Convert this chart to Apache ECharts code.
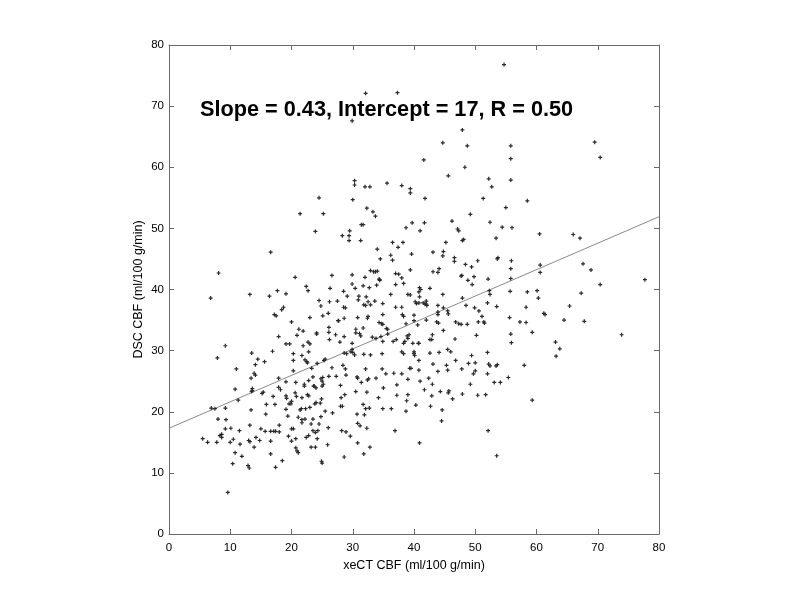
<!DOCTYPE html>
<html><head><meta charset="utf-8">
<script src="https://cdn.jsdelivr.net/npm/echarts@6/dist/echarts.min.js"></script>
<style>html,body{margin:0;padding:0;background:#fff}#c{width:800px;height:600px}</style>
</head><body><div id="c"></div>
<script>
// ---- data ----
const xValues = [
54.7,32.1,37.3,29.9,47.9,44.7,48.7,55.8,69.5,70.4,55.8,41.6,48.3,45.6,52.2,55.8,30.3,30.3,35.6,38.0,
39.4,39.4,32.0,32.8,52.7,24.5,41.8,51.3,30.0,58.5,21.4,25.2,49.2,32.3,33.3,33.7,55.0,46.2,52.4,39.7,
41.7,31.4,31.7,54.4,56.0,38.7,29.5,23.9,41.0,47.1,47.3,60.5,66.0,67.1,28.3,29.4,31.3,29.4,47.9,48.1,
53.4,36.5,38.2,45.2,37.4,34.0,16.6,43.1,44.8,44.7,39.6,36.2,36.5,34.5,46.6,46.6,53.7,53.6,55.9,50.4,
60.6,67.6,55.8,60.6,48.4,44.1,43.9,32.9,33.4,33.7,34.0,37.5,43.1,47.8,49.4,52.1,55.8,68.9,8.1,20.6,
26.6,29.9,32.0,38.0,47.7,48.8,49.8,77.7,70.4,60.1,60.3,52.3,52.4,55.7,58.5,67.3,49.5,47.9,39.4,22.4,
22.7,26.3,17.7,19.1,13.2,16.4,6.8,29.9,30.4,31.7,32.7,34.3,34.4,37.0,38.3,40.9,41.1,42.6,44.7,36.2,
39.0,39.4,28.5,27.5,26.2,24.5,28.5,28.8,29.1,31.0,30.9,32.2,32.5,32.9,31.8,32.1,33.6,34.9,37.0,38.0,
40.2,40.4,40.8,41.5,42.0,42.1,43.9,44.8,43.9,43.9,45.5,48.5,49.9,50.6,52.0,53.5,58.3,65.4,61.2,61.4,
55.6,67.8,73.9,64.5,57.3,58.3,51.1,51.4,51.5,50.5,48.7,46.8,47.3,47.7,45.6,43.7,44.0,42.0,40.0,40.0,
40.6,38.1,38.3,34.9,34.3,34.7,34.9,35.5,35.7,32.4,32.5,30.8,28.6,27.6,27.7,26.0,25.1,24.8,23.0,17.2,
17.5,18.4,18.7,20.0,21.2,21.9,17.9,20.9,24.1,24.1,26.1,26.1,27.2,28.6,30.5,31.1,31.3,30.5,31.7,33.2,
33.8,34.6,35.7,39.2,38.9,39.0,43.0,42.6,42.9,44.8,46.7,50.2,59.3,63.1,63.8,63.2,55.8,55.9,40.7,40.8,
39.8,38.3,38.5,34.9,37.1,36.6,29.9,27.9,26.2,22.7,23.0,21.9,19.1,19.7,9.2,13.5,16.9,20.3,21.7,22.8,
28.6,29.0,29.7,29.9,30.0,30.3,31.8,32.9,34.8,38.0,38.3,40.0,40.0,40.1,42.6,44.1,45.5,46.0,49.4,52.0,
52.2,52.4,58.0,55.4,53.1,51.7,50.4,59.3,52.1,53.5,50.0,50.0,49.7,48.9,47.8,49.2,46.8,45.3,45.5,43.9,
43.1,43.0,42.9,45.7,45.6,44.3,44.6,44.5,46.3,42.7,41.0,40.8,41.7,40.3,40.9,39.0,39.0,38.8,38.7,37.2,
37.2,38.0,36.7,36.3,36.9,35.4,34.8,35.0,34.2,34.9,33.8,32.6,32.4,32.1,32.3,31.4,30.7,30.8,30.5,31.7,
30.7,31.9,32.1,32.7,30.8,31.2,29.6,30.8,31.8,32.8,32.3,28.4,28.8,28.9,28.0,28.7,28.1,28.0,28.3,28.2,
28.9,28.6,27.3,26.1,26.6,26.7,26.0,25.9,25.3,25.5,25.1,24.8,25.0,25.0,25.2,24.9,24.7,25.5,24.8,24.5,
24.3,24.9,25.0,24.2,23.9,23.9,23.5,23.2,23.5,23.8,24.0,24.0,23.7,23.6,23.5,23.3,24.2,22.6,22.2,22.5,
22.8,22.8,22.6,22.3,23.0,22.2,21.7,21.7,22.4,22.8,23.2,21.6,21.4,21.7,22.1,22.1,20.7,20.3,20.3,20.6,
20.8,21.1,20.0,20.3,19.5,20.0,20.7,20.7,20.9,21.1,18.0,18.5,17.4,18.0,19.1,19.2,19.1,19.6,19.9,20.0,
19.4,19.1,17.9,18.2,17.9,17.0,17.3,16.6,16.6,16.6,17.4,17.1,15.7,15.0,14.2,14.8,15.8,15.9,15.4,15.2,
15.6,14.5,14.1,13.9,14.1,13.4,13.6,13.6,13.5,13.4,13.2,13.0,13.2,13.9,12.9,13.1,11.9,11.6,11.5,11.3,
10.8,11.0,10.4,10.8,10.5,10.1,10.0,9.6,9.2,9.3,9.2,8.6,8.3,8.6,8.0,7.9,7.8,7.5,6.9,6.3,
5.5,53.4,53.6,54.1,52.0,42.4,39.3,39.5,40.8,47.9,34.4,33.9,37.0,40.8,40.9,42.0,41.8,38.7
];
const yValues = [
76.8,72.1,72.2,67.6,66.1,64.0,63.5,63.5,64.1,61.6,61.4,61.2,60.0,58.6,58.1,57.9,57.8,57.1,57.4,57.0,
56.5,55.8,56.8,56.8,56.8,55.0,54.9,54.9,54.7,54.5,52.4,52.4,52.3,53.3,52.7,52.0,53.4,51.2,51.0,50.9,
50.9,50.6,50.6,50.2,50.1,50.1,49.6,49.5,49.6,49.9,49.6,49.1,49.0,48.4,48.8,48.8,48.0,48.0,48.0,48.2,
48.4,47.7,47.7,47.7,46.9,46.6,46.1,46.1,46.2,45.5,45.8,45.6,44.8,45.0,45.2,44.6,45.2,45.0,44.7,44.7,
44.0,44.2,43.4,42.8,44.1,43.4,42.8,43.1,42.9,42.9,43.0,42.5,42.9,42.3,43.7,41.7,41.8,43.2,42.7,42.0,
42.3,42.4,42.0,41.9,42.2,41.5,42.1,41.6,40.8,39.8,38.6,39.8,39.2,39.7,39.6,39.4,40.8,38.6,43.2,40.5,
39.8,40.2,39.8,39.3,39.2,38.9,38.6,40.9,40.2,40.6,40.3,41.7,41.5,42.6,41.0,40.3,40.0,40.2,39.2,39.2,
39.2,39.1,39.7,38.1,38.0,38.2,37.1,37.0,38.9,38.9,38.3,38.8,38.0,37.5,37.5,37.4,38.1,37.7,37.1,37.1,
38.0,37.7,37.8,37.8,37.6,37.4,37.4,37.0,36.3,35.9,36.5,37.4,37.0,36.5,37.8,37.2,37.1,37.3,36.1,35.9,
35.4,34.8,32.6,35.0,34.7,34.6,35.6,34.7,34.5,34.7,34.3,34.7,34.4,34.3,36.0,34.7,34.5,35.0,35.8,34.9,
34.2,35.9,35.6,35.9,34.6,34.4,34.3,33.6,33.5,35.3,35.6,35.4,35.3,34.9,34.9,36.1,35.7,37.3,35.4,35.9,
35.7,36.7,37.1,34.7,33.5,33.2,32.3,32.5,32.9,32.7,33.8,33.0,32.6,32.3,32.9,32.8,32.4,33.5,33.7,32.2,
32.0,32.3,32.7,32.6,32.4,32.0,32.6,31.8,31.8,33.3,31.9,32.5,33.0,31.4,30.3,29.1,32.7,31.3,31.2,31.2,
31.2,31.2,31.5,31.5,31.8,31.5,31.2,31.4,31.8,31.4,31.1,30.8,31.1,31.1,30.8,29.6,29.9,29.5,29.2,29.8,
29.6,29.5,29.8,30.2,29.7,29.3,29.4,29.3,29.5,29.8,29.5,29.8,29.5,29.2,29.6,29.7,30.2,29.8,29.2,29.7,
27.8,27.5,27.6,25.6,24.8,22.8,22.7,21.9,16.9,12.8,28.0,26.7,26.2,27.9,27.0,24.5,28.4,27.6,26.8,26.6,
27.8,24.5,22.6,23.4,23.1,23.3,20.3,18.5,22.1,20.9,25.0,26.8,23.6,21.1,14.9,25.3,22.8,21.8,20.1,24.4,
22.7,26.2,26.3,20.5,16.9,26.2,27.0,23.9,22.3,20.5,25.5,25.4,25.2,27.0,23.2,24.8,25.7,25.5,23.3,21.2,
19.6,19.5,20.5,20.6,18.1,17.7,16.0,14.9,13.1,14.2,17.3,27.6,27.0,26.0,24.3,22.8,22.3,20.9,20.9,16.9,
16.7,12.6,25.8,25.8,27.2,19.8,17.4,14.6,28.4,28.6,25.6,25.4,25.0,24.2,24.5,22.1,21.4,20.1,19.2,18.0,
16.9,11.9,11.6,15.6,14.2,16.6,16.9,18.0,18.8,21.3,21.5,23.9,24.2,24.2,25.7,27.1,27.9,28.0,28.5,28.2,
25.1,22.6,22.8,20.5,20.7,18.8,18.2,18.7,15.8,16.1,14.2,20.5,20.3,22.3,24.5,24.2,24.8,26.7,28.4,23.1,
22.5,19.1,17.2,17.2,16.0,15.2,15.6,14.1,13.6,13.3,16.7,12.0,10.9,17.8,20.4,22.2,22.6,21.3,21.3,21.7,
19.3,24.9,24.0,23.6,25.5,22.5,21.2,16.8,15.2,13.1,16.8,16.8,16.8,17.2,15.8,15.3,19.6,21.2,23.2,23.0,
28.2,28.6,27.7,26.3,26.0,25.5,23.8,23.5,23.3,20.3,17.8,15.3,15.1,14.2,11.2,10.8,12.7,14.7,16.9,21.9,
23.7,27.0,11.5,13.3,15.5,17.3,15.0,6.8,17.2,18.7,20.6,16.3,16.1,15.8,18.8,28.8,15.0,20.5,20.6,15.0,
15.6,27.5,27.7,24.8,26.2,25.5,27.1,27.1,28.4,22.9,41.6,40.7,40.8,39.6,38.8,38.1,37.6,34.4
];
// least-squares fit line end points
const fitX = [0, 80];
const fitY = [17.3, 51.9];
const annotation = 'Slope = 0.43, Intercept = 17, R = 0.50';
const xAxisTitle = 'xeCT CBF (ml/100 g/min)';
const yAxisTitle = 'DSC CBF (ml/100 g/min)';
const axisMin = 0, axisMax = 80, axisStep = 10;

// ---- chart ----
const points = xValues.map((x, i) => [x, yValues[i]]);
const fitLine = fitX.map((x, i) => [x, fitY[i]]);
const FONT = '"Liberation Sans", Arial, Helvetica, sans-serif';
const AX = '#6a6a6a';
const chart = echarts.init(document.getElementById('c'), null, {renderer: 'canvas'});
const baseAxis = {
  type: 'value', min: axisMin, max: axisMax, interval: axisStep,
  splitLine: {show: false},
  axisLine: {show: true, onZero: false, lineStyle: {color: AX, width: 1}},
  axisTick: {show: true, inside: true, length: 5, lineStyle: {color: AX, width: 1}},
};
chart.setOption({
  animation: false,
  backgroundColor: '#fff',
  grid: {left: 169, right: 141, top: 45, bottom: 66, containLabel: false},
  xAxis: [
    Object.assign({}, baseAxis, {
      position: 'bottom',
      axisLabel: {color: '#000', fontSize: 11.5, fontFamily: FONT, margin: 8},
      name: xAxisTitle, nameLocation: 'middle', nameGap: 25, nameMoveOverlap: false,
      nameTextStyle: {color: '#000', fontSize: 12.5, fontFamily: FONT}
    }),
    Object.assign({}, baseAxis, {position: 'top', axisLabel: {show: false}})
  ],
  yAxis: [
    Object.assign({}, baseAxis, {
      position: 'left',
      axisLabel: {color: '#000', fontSize: 11.5, fontFamily: FONT, margin: 5},
      name: yAxisTitle, nameLocation: 'middle', nameGap: 24, nameMoveOverlap: false,
      nameTextStyle: {color: '#000', fontSize: 12.5, fontFamily: FONT}
    }),
    Object.assign({}, baseAxis, {position: 'right', axisLabel: {show: false}})
  ],
  graphic: [{
    type: 'text', left: 200, top: 99, silent: true,
    style: {text: annotation, font: 'bold 21.7px ' + FONT, fill: '#000'}
  }],
  series: [
    {
      type: 'line', data: fitLine, xAxisIndex: 0, yAxisIndex: 0,
      symbol: 'none', lineStyle: {color: '#8a8a8a', width: 1}, z: 1, silent: true
    },
    {
      type: 'scatter', data: points, xAxisIndex: 0, yAxisIndex: 0,
      symbol: 'path://M3.5,0H6.5V3.5H10V6.5H6.5V10H3.5V6.5H0V3.5H3.5Z',
      symbolSize: 4, itemStyle: {color: '#2a2a2a', opacity: 1}, z: 2, silent: true
    }
  ]
});
</script>
</body></html>
